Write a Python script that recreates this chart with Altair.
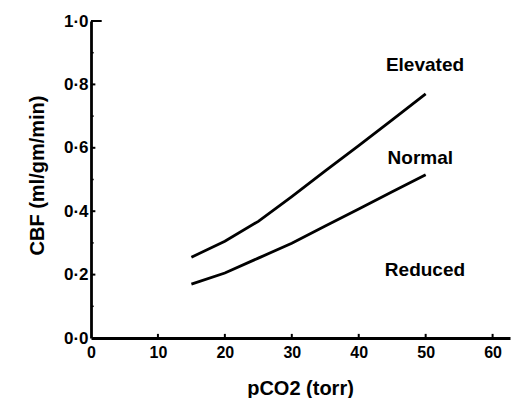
import altair as alt
import pandas as pd

# Data
pco2 = [15, 20, 25, 30, 35, 40, 45, 50]
elevated = [0.255, 0.305, 0.368, 0.446, 0.527, 0.607, 0.688, 0.77]
normal = [0.17, 0.205, 0.252, 0.299, 0.353, 0.407, 0.461, 0.515]

label_text = ["Elevated", "Normal", "Reduced"]
label_x = [49.9, 49.2, 49.9]
label_y = [0.86, 0.567, 0.214]

x_ticks = [10, 20, 30, 40, 50, 60]
y_major = [0.2, 0.4, 0.6, 0.8]
y_minor = [0.1, 0.3, 0.5, 0.7, 0.9]

FONT = "Liberation Sans"

lines_df = pd.DataFrame(
    {"x": pco2 * 2,
     "y": elevated + normal,
     "series": ["Elevated"] * len(pco2) + ["Normal"] * len(pco2)}
)
labels_df = pd.DataFrame({"t": label_text, "x": label_x, "y": label_y})

xs = alt.Scale(domain=[0, 62.6], nice=False, zero=False)
ys = alt.Scale(domain=[0, 1.0], nice=False, zero=False)

x_axis = alt.Axis(values=[0, 10, 20, 30, 40, 50, 60], ticks=False, grid=False,
                  domainColor="black", domainWidth=2.8,
                  labelFont=FONT, labelFontWeight="bold", labelFontSize=16,
                  labelColor="black", labelPadding=6, labelFlush=False,
                  title="pCO2 (torr)", titleFont=FONT, titleFontWeight="bold",
                  titleFontSize=20, titleColor="black",
                  titleX=209, titleY=50, titleBaseline="middle", titleAlign="center")
y_axis = alt.Axis(values=[0, 0.2, 0.4, 0.6, 0.8, 1.0], ticks=False, grid=False,
                  domainColor="black", domainWidth=2.8,
                  labelExpr="replace(format(datum.value, '.1f'), '.', '·')",
                  labelFont=FONT, labelFontWeight="bold", labelFontSize=17,
                  labelColor="black", labelPadding=3, labelFlush=False,
                  title="CBF (ml/gm/min)", titleFont=FONT, titleFontWeight="bold",
                  titleFontSize=20, titleColor="black", titleAngle=-90,
                  titleX=-54, titleY=154, titleBaseline="middle", titleAlign="center")


def X(field="x"):
    return alt.X(f"{field}:Q", scale=xs, axis=x_axis, title="pCO2 (torr)")


def Y(field="y"):
    return alt.Y(f"{field}:Q", scale=ys, axis=y_axis, title="CBF (ml/gm/min)")


lines = alt.Chart(lines_df).mark_line(color="black", strokeWidth=2.8).encode(
    x=X(), y=Y(), detail="series:N",
)

xt_df = pd.DataFrame({"x": x_ticks, "y": [0.0] * len(x_ticks), "y1": [0.013] * len(x_ticks)})
xticks = alt.Chart(xt_df).mark_rule(color="black", strokeWidth=2).encode(
    x=X(), y=Y(), y2="y1:Q",
)

ym_df = pd.DataFrame({"y": y_major + [1.0], "x": [0.0] * 5, "x1": [0.65] * 4 + [1.6]})
yticks = alt.Chart(ym_df).mark_rule(color="black", strokeWidth=2).encode(
    y=Y(), x=X(), x2="x1:Q",
)

yn_df = pd.DataFrame({"y": y_minor, "x": [0.0] * 5, "x1": [0.4] * 5})
yminor = alt.Chart(yn_df).mark_rule(color="black", strokeWidth=1.5).encode(
    y=Y(), x=X(), x2="x1:Q",
)

labels = alt.Chart(labels_df).mark_text(
    font=FONT, fontWeight="bold", fontSize=19, color="black", align="center", baseline="middle"
).encode(
    x=X(), y=Y(), text="t:N",
)

chart = alt.layer(lines, xticks, yticks, yminor, labels).properties(
    width=419, height=317,
    autosize=alt.AutoSizeParams(type="none"),
    padding={"left": 91, "top": 21, "right": 6, "bottom": 60},
    background="white",
).configure_view(stroke=None)

chart.save("out.html", embed_options={"renderer": "svg", "actions": False})
